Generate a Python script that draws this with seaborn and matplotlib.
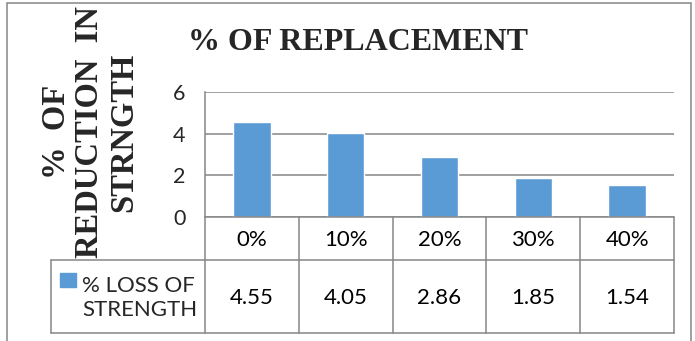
import matplotlib
matplotlib.use('Agg')
import matplotlib.pyplot as plt
import seaborn as sns
import pandas as pd
from matplotlib.patches import Rectangle

# data
categories = ['0%', '10%', '20%', '30%', '40%']
loss = [4.55, 4.05, 2.86, 1.85, 1.54]
value_labels = ['4.55', '4.05', '2.86', '1.85', '1.54']
series_name = '% LOSS OF\nSTRENGTH'

df = pd.DataFrame({'rep': categories, 'loss': loss})

sns.set_style('white')
plt.rcParams['font.family'] = ['Lato', 'DejaVu Sans']

blue = '#5B9BD5'
grey = '#868686'

fig = plt.figure(figsize=(6.95, 3.41), dpi=100)
W, H = 695, 341
ax = fig.add_axes([205 / W, (H - 217) / H, (674 - 205) / W, (217 - 92) / H])

sns.barplot(data=df, x='rep', y='loss', color=blue, width=0.4, saturation=1, ax=ax)
ax.set_ylim(0, 6)
ax.set_xlim(-0.5, 4.5)
ax.set_yticks([0, 2, 4, 6])
ax.yaxis.grid(True, color=grey, lw=1.1)
ax.set_axisbelow(True)
ax.set_xticks([])
ax.set_xlabel('')
ax.set_ylabel('')
ax.tick_params(axis='y', length=0, pad=14, labelsize=15.5)
for s in ['top', 'right', 'bottom']:
    ax.spines[s].set_visible(False)
ax.spines['left'].set_color(grey)
ax.spines['left'].set_linewidth(1.1)

# data table below the axes (axes-fraction y)
ph = 125.0
def yf(py):
    return (217 - py) / ph

tr = ax.get_xaxis_transform()
y_hdr = yf(260)
y_bot = yf(333)
x_left = (51 - 205) / 469 * 5 - 0.5
kw = dict(color=grey, lw=1.1, transform=tr, clip_on=False)
ax.plot([-0.5, 4.5], [0, 0], **kw)
ax.plot([x_left, 4.5], [y_hdr, y_hdr], **kw)
ax.plot([x_left, 4.5], [y_bot, y_bot], **kw)
ax.plot([x_left, x_left], [y_hdr, y_bot], **kw)
for b in range(6):
    ax.plot([b - 0.5, b - 0.5], [0, y_bot], **kw)

for i, c in enumerate(categories):
    ax.text(i, yf(240), c, ha='center', va='center', fontsize=16, transform=tr, color='black')
    ax.text(i, yf(298), value_labels[i], ha='center', va='center', fontsize=16, transform=tr, color='black')

# legend key + series name
fig.add_artist(Rectangle((60 / W, (H - 287) / H), 16 / W, 14 / H,
                         transform=fig.transFigure, color=blue))
fig.text(82 / W, (H - 298) / H, series_name, ha='left', va='center',
         fontsize=16, linespacing=1.3)

# titles
fig.text(358 / W, (H - 42) / H, '% OF REPLACEMENT', ha='center', va='center',
         fontsize=23, fontweight='bold', family='Liberation Serif')
fig.text(90 / W, (H - 132) / H, '%  OF\nREDUCTION  IN\nSTRNGTH', ha='center', va='center',
         rotation=90, fontsize=23.5, fontweight='bold', family='Liberation Serif',
         linespacing=1.12, multialignment='center')

# outer chart border
fig.add_artist(Rectangle((7 / W, -0.05), (691 - 7) / W, 1.05 - 3 / H,
                         transform=fig.transFigure, fill=False, ec=grey, lw=1.1))

fig.savefig('out.png', dpi=100)
